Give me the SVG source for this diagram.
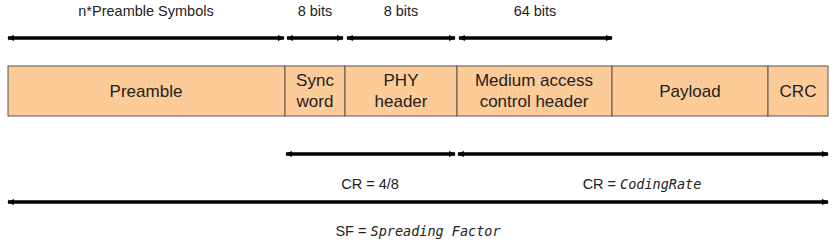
<svg xmlns="http://www.w3.org/2000/svg" width="838" height="242" viewBox="0 0 838 242">
<defs>
<marker id="ae" viewBox="0 0 8 8" refX="7" refY="4" markerWidth="7" markerHeight="7" markerUnits="userSpaceOnUse" orient="auto-start-reverse">
<path d="M0,0.5 L8,4 L0,7.5 z" fill="#000"/>
</marker>
</defs>
<style>
text{font-family:"Liberation Sans",Arial,sans-serif;fill:#222;text-anchor:middle}
.lbl{font-size:14.5px}
.box{font-size:17px}
.cell{fill:#FDCB98;stroke:#555;stroke-width:1}
.arr{stroke:#000;stroke-width:3.5;fill:none;marker-start:url(#ae);marker-end:url(#ae)}
.mono{font-family:"DejaVu Sans Mono",monospace;font-style:italic;font-size:13.5px}
</style>
<g id="labels-top">
<text class="lbl" x="146" y="16">n*Preamble Symbols</text>
<text class="lbl" x="315" y="16">8 bits</text>
<text class="lbl" x="401" y="16">8 bits</text>
<text class="lbl" x="535" y="16">64 bits</text>
</g>
<g id="connectors">
<line class="arr" x1="8" y1="38" x2="284" y2="38"/>
<line class="arr" x1="287" y1="38" x2="343" y2="38"/>
<line class="arr" x1="347" y1="38" x2="455" y2="38"/>
<line class="arr" x1="459" y1="38" x2="612" y2="38"/>
<line class="arr" x1="286" y1="154" x2="455" y2="154"/>
<line class="arr" x1="458" y1="154" x2="828" y2="154"/>
<line class="arr" x1="8" y1="202" x2="828" y2="202"/>
</g>
<g id="preamble"><rect class="cell" x="8" y="66" width="277" height="50"/><text class="box" x="146" y="97">Preamble</text></g>
<g id="sync"><rect class="cell" x="285" y="66" width="60" height="50"/><text class="box" x="315" y="86">Sync</text><text class="box" x="315" y="107">word</text></g>
<g id="phy"><rect class="cell" x="345" y="66" width="112" height="50"/><text class="box" x="401" y="86">PHY</text><text class="box" x="401" y="107">header</text></g>
<g id="mac"><rect class="cell" x="457" y="66" width="155" height="50"/><text class="box" x="534" y="86">Medium access</text><text class="box" x="534" y="107">control header</text></g>
<g id="payload"><rect class="cell" x="612" y="66" width="156" height="50"/><text class="box" x="690" y="97">Payload</text></g>
<g id="crc"><rect class="cell" x="768" y="66" width="60" height="50"/><text class="box" x="798" y="97">CRC</text></g>
<g id="labels-bottom">
<text class="lbl" x="370" y="189">CR = 4/8</text>
<text class="lbl" x="642" y="189">CR = <tspan class="mono">CodingRate</tspan></text>
<text class="lbl" x="418" y="236">SF = <tspan class="mono">Spreading Factor</tspan></text>
</g>
</svg>
